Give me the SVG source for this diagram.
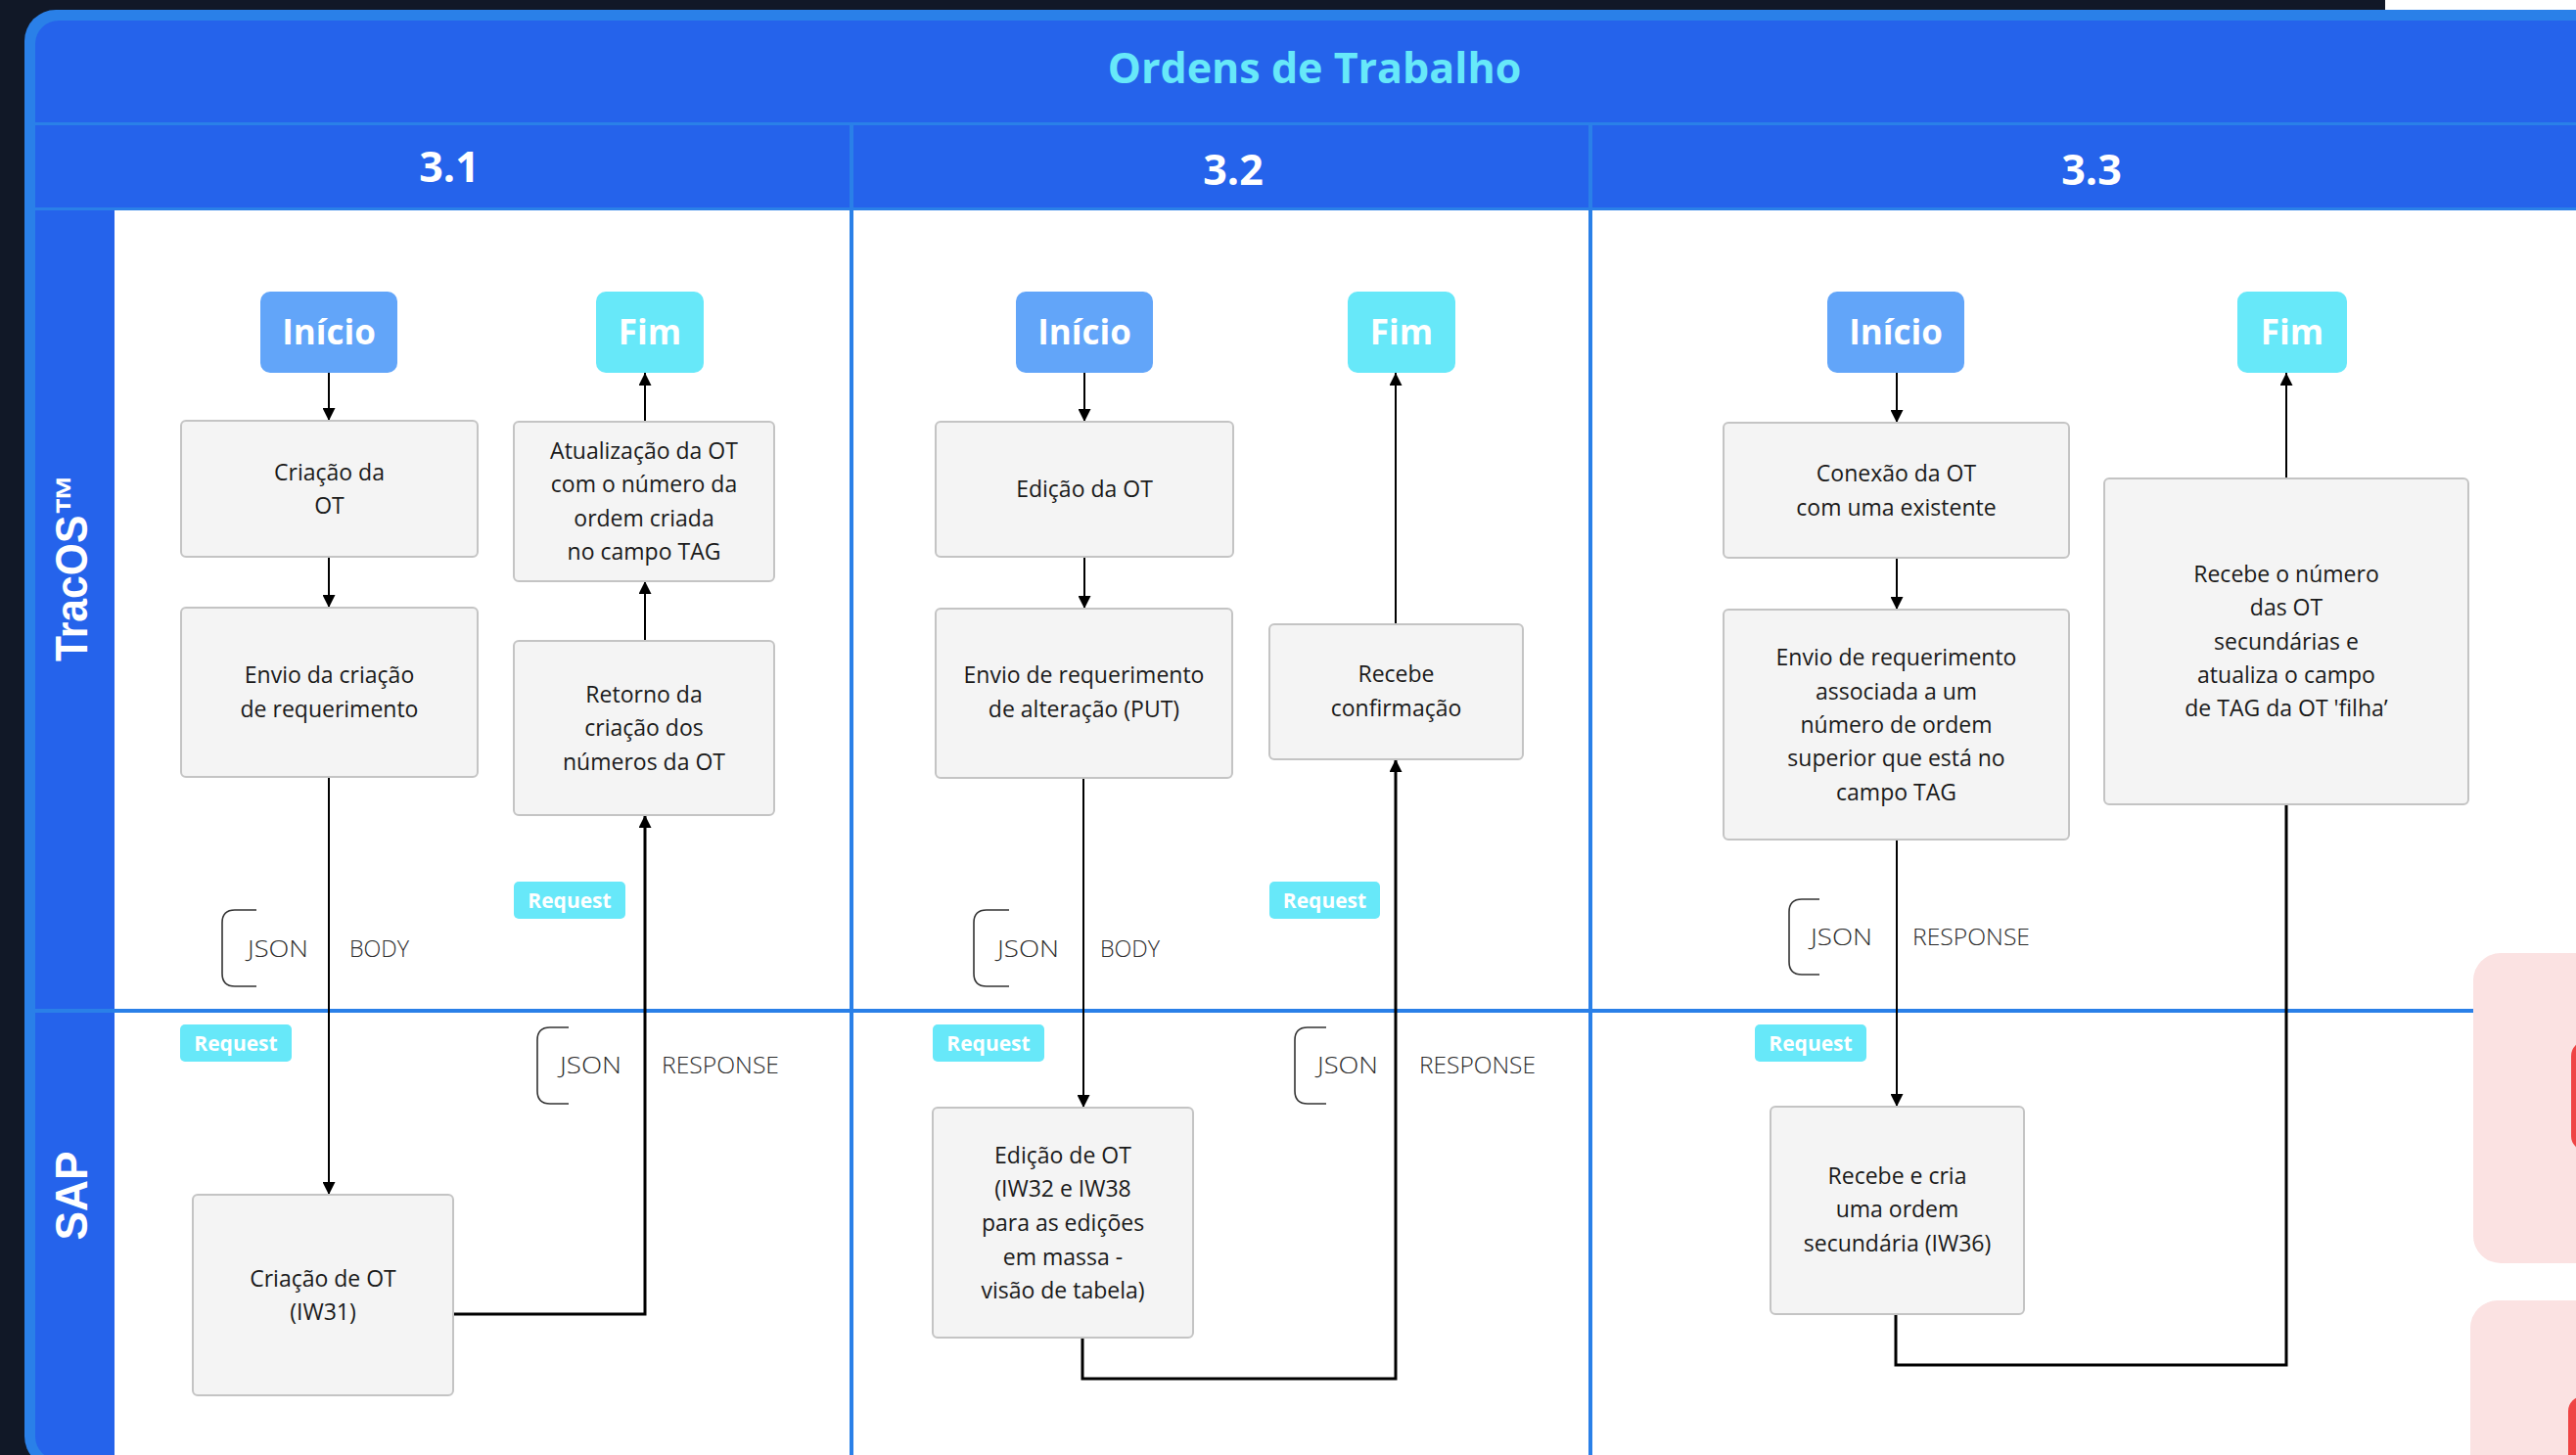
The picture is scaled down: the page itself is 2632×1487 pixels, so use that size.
<svg xmlns="http://www.w3.org/2000/svg" width="2632" height="1487" viewBox="0 0 2632 1487">
<defs>
<style>
.nd rect{fill:#f4f4f4;stroke:#c4c4c4;stroke-width:2}
.nt{font-family:"Open Sans","Liberation Sans",sans-serif;font-size:23px;fill:#1a1a1a;text-anchor:middle}
.st rect{fill:#62a5f9}
.en rect{fill:#67e8f9}
.se{font-family:"Open Sans","Liberation Sans",sans-serif;font-size:35px;font-weight:700;fill:#fff;text-anchor:middle}
.bd rect{fill:#67e8f9}
.bt{font-family:"Open Sans","Liberation Sans",sans-serif;font-size:21px;font-weight:700;fill:#fff;text-anchor:middle}
.lb{font-family:"Open Sans","Liberation Sans",sans-serif;font-size:23px;font-weight:300;fill:#2b2b2b}
.bk{fill:none;stroke:#333;stroke-width:1.6}
.c{fill:none;stroke:#000;stroke-width:2}
.c2{fill:none;stroke:#000;stroke-width:3}
.hd{font-family:"Open Sans","Liberation Sans",sans-serif;font-weight:700;fill:#fff;text-anchor:middle}
</style>
<marker id="a" viewBox="0 0 13 13" refX="13" refY="6.5" markerWidth="13" markerHeight="13" markerUnits="userSpaceOnUse" orient="auto"><path d="M0,0 L13,6.5 L0,13 z" fill="#000"/></marker>
</defs>

<g id="background">
<rect x="0" y="0" width="2632" height="1487" fill="#ffffff"/>
<rect x="0" y="0" width="2437" height="1487" fill="#111827"/>
</g>

<g id="frame">
<rect x="25" y="10" width="2720" height="1490" rx="32" fill="#2a80e8"/>
<rect x="36" y="21" width="2720" height="1471" rx="24" fill="#2563eb"/>
<rect x="117" y="215" width="2600" height="1280" fill="#ffffff"/>
<rect x="36" y="125" width="2700" height="3" fill="#2a80e8"/>
<rect x="36" y="212" width="2700" height="3" fill="#2a80e8"/>
<rect x="868" y="128" width="4" height="1370" fill="#2a80e8"/>
<rect x="1623" y="128" width="4" height="1370" fill="#2a80e8"/>
<rect x="36" y="1031" width="2491" height="4" fill="#2a80e8"/>
<text x="1343" y="85" class="hd" style="font-size:43px;fill:#67e8f9">Ordens de Trabalho</text>
<text x="459" y="186" class="hd" style="font-size:43px">3.1</text>
<text x="1260" y="189" class="hd" style="font-size:43px">3.2</text>
<text x="2137" y="189" class="hd" style="font-size:43px">3.3</text>
<text transform="translate(89,580) rotate(-90)" class="hd" style="font-family:'Liberation Sans',Arial,sans-serif;font-size:46px" textLength="192" lengthAdjust="spacingAndGlyphs">TracOS™</text>
<text transform="translate(89,1222) rotate(-90)" class="hd" style="font-family:'Liberation Sans',Arial,sans-serif;font-size:46px" textLength="91" lengthAdjust="spacingAndGlyphs">SAP</text>
</g>

<g id="side-panels">
<rect x="2527" y="974" width="200" height="317" rx="28" fill="#fbe2e2"/>
<rect x="2627" y="1064" width="60" height="112" rx="15" fill="#ef4444"/>
<rect x="2524" y="1329" width="200" height="300" rx="28" fill="#fbe2e2"/>
<rect x="2624" y="1427" width="60" height="100" rx="15" fill="#ef4444"/>
</g>

<g id="connectors">
<path class="c" d="M336,381 V430" marker-end="url(#a)"/>
<path class="c" d="M336,569 V621" marker-end="url(#a)"/>
<path class="c" d="M336,794 V1221" marker-end="url(#a)"/>
<path class="c2" d="M463,1343 H659 V833" marker-end="url(#a)"/>
<path class="c" d="M659,655 V594" marker-end="url(#a)"/>
<path class="c" d="M659,431 V381" marker-end="url(#a)"/>
<path class="c" d="M1108,381 V431" marker-end="url(#a)"/>
<path class="c" d="M1108,569 V622" marker-end="url(#a)"/>
<path class="c" d="M1107,795 V1132" marker-end="url(#a)"/>
<path class="c2" d="M1106,1367 V1409 H1426 V776" marker-end="url(#a)"/>
<path class="c" d="M1426,638 V381" marker-end="url(#a)"/>
<path class="c" d="M1938,381 V432" marker-end="url(#a)"/>
<path class="c" d="M1938,570 V623" marker-end="url(#a)"/>
<path class="c" d="M1938,858 V1131" marker-end="url(#a)"/>
<path class="c2" d="M1937,1343 V1395 H2336 V822"/>
<path class="c" d="M2336,489 V381" marker-end="url(#a)"/>
</g>

<g id="annotations">
<path class="bk" d="M262,930 H240 Q227,930 227,943 V995 Q227,1008 240,1008 H262"/>
<text x="253" y="978" class="lb" textLength="62" lengthAdjust="spacingAndGlyphs">JSON</text>
<text x="357" y="978" class="lb" textLength="61" lengthAdjust="spacingAndGlyphs">BODY</text>
<path class="bk" d="M581,1050 H562 Q549,1050 549,1063 V1115 Q549,1128 562,1128 H581"/>
<text x="572" y="1097" class="lb" textLength="63" lengthAdjust="spacingAndGlyphs">JSON</text>
<text x="676" y="1097" class="lb" textLength="120" lengthAdjust="spacingAndGlyphs">RESPONSE</text>
<path class="bk" d="M1031,930 H1008 Q995,930 995,943 V995 Q995,1008 1008,1008 H1031"/>
<text x="1019" y="978" class="lb" textLength="63" lengthAdjust="spacingAndGlyphs">JSON</text>
<text x="1124" y="978" class="lb" textLength="61" lengthAdjust="spacingAndGlyphs">BODY</text>
<path class="bk" d="M1355,1050 H1336 Q1323,1050 1323,1063 V1115 Q1323,1128 1336,1128 H1355"/>
<text x="1346" y="1097" class="lb" textLength="62" lengthAdjust="spacingAndGlyphs">JSON</text>
<text x="1450" y="1097" class="lb" textLength="119" lengthAdjust="spacingAndGlyphs">RESPONSE</text>
<path class="bk" d="M1859,919 H1841 Q1828,919 1828,932 V983 Q1828,996 1841,996 H1859"/>
<text x="1850" y="966" class="lb" textLength="63" lengthAdjust="spacingAndGlyphs">JSON</text>
<text x="1954" y="966" class="lb" textLength="120" lengthAdjust="spacingAndGlyphs">RESPONSE</text>
<g class="bd"><rect x="525" y="901" width="114" height="38" rx="5"/><text x="582" y="928" class="bt">Request</text></g>
<g class="bd"><rect x="184" y="1047" width="114" height="38" rx="5"/><text x="241" y="1074" class="bt">Request</text></g>
<g class="bd"><rect x="1297" y="901" width="113" height="38" rx="5"/><text x="1353.5" y="928" class="bt">Request</text></g>
<g class="bd"><rect x="953" y="1047" width="114" height="38" rx="5"/><text x="1010" y="1074" class="bt">Request</text></g>
<g class="bd"><rect x="1793" y="1047" width="114" height="38" rx="5"/><text x="1850" y="1074" class="bt">Request</text></g>
</g>

<g id="inicio1" class="st"><rect x="266" y="298" width="140" height="83" rx="10"/><text x="336" y="352" class="se">Início</text></g>
<g id="fim1" class="en"><rect x="609" y="298" width="110" height="83" rx="10"/><text x="664" y="352" class="se">Fim</text></g>
<g id="criacao-ot" class="nd"><rect x="185" y="430" width="303" height="139" rx="5"/><text class="nt"><tspan x="336.5" y="491">Criação da</tspan><tspan x="336.5" y="525">OT</tspan></text></g>
<g id="envio-criacao" class="nd"><rect x="185" y="621" width="303" height="173" rx="5"/><text class="nt"><tspan x="336.5" y="698">Envio da criação</tspan><tspan x="336.5" y="733">de requerimento</tspan></text></g>
<g id="atualizacao-ot" class="nd"><rect x="525" y="431" width="266" height="163" rx="5"/><text class="nt"><tspan x="658" y="469">Atualização da OT</tspan><tspan x="658" y="503">com o número da</tspan><tspan x="658" y="538">ordem criada</tspan><tspan x="658" y="572">no campo TAG</tspan></text></g>
<g id="retorno" class="nd"><rect x="525" y="655" width="266" height="178" rx="5"/><text class="nt"><tspan x="658" y="718">Retorno da</tspan><tspan x="658" y="752">criação dos</tspan><tspan x="658" y="787">números da OT</tspan></text></g>
<g id="criacao-sap" class="nd"><rect x="197" y="1221" width="266" height="205" rx="5"/><text class="nt"><tspan x="330" y="1315">Criação de OT</tspan><tspan x="330" y="1349">(IW31)</tspan></text></g>

<g id="inicio2" class="st"><rect x="1038" y="298" width="140" height="83" rx="10"/><text x="1108" y="352" class="se">Início</text></g>
<g id="fim2" class="en"><rect x="1377" y="298" width="110" height="83" rx="10"/><text x="1432" y="352" class="se">Fim</text></g>
<g id="edicao-ot" class="nd"><rect x="956" y="431" width="304" height="138" rx="5"/><text class="nt"><tspan x="1108" y="508">Edição da OT</tspan></text></g>
<g id="envio-alteracao" class="nd"><rect x="956" y="622" width="303" height="173" rx="5"/><text class="nt"><tspan x="1107.5" y="698">Envio de requerimento</tspan><tspan x="1107.5" y="733">de alteração (PUT)</tspan></text></g>
<g id="recebe-confirmacao" class="nd"><rect x="1297" y="638" width="259" height="138" rx="5"/><text class="nt"><tspan x="1426.5" y="697">Recebe</tspan><tspan x="1426.5" y="732">confirmação</tspan></text></g>
<g id="edicao-sap" class="nd"><rect x="953" y="1132" width="266" height="235" rx="5"/><text class="nt"><tspan x="1086" y="1189">Edição de OT</tspan><tspan x="1086" y="1223">(IW32 e IW38</tspan><tspan x="1086" y="1258">para as edições</tspan><tspan x="1086" y="1293">em massa -</tspan><tspan x="1086" y="1327">visão de tabela)</tspan></text></g>

<g id="inicio3" class="st"><rect x="1867" y="298" width="140" height="83" rx="10"/><text x="1937" y="352" class="se">Início</text></g>
<g id="fim3" class="en"><rect x="2286" y="298" width="112" height="83" rx="10"/><text x="2342" y="352" class="se">Fim</text></g>
<g id="conexao-ot" class="nd"><rect x="1761" y="432" width="353" height="138" rx="5"/><text class="nt"><tspan x="1937.5" y="492">Conexão da OT</tspan><tspan x="1937.5" y="527">com uma existente</tspan></text></g>
<g id="envio-associada" class="nd"><rect x="1761" y="623" width="353" height="235" rx="5"/><text class="nt"><tspan x="1937.5" y="680">Envio de requerimento</tspan><tspan x="1937.5" y="715">associada a um</tspan><tspan x="1937.5" y="749">número de ordem</tspan><tspan x="1937.5" y="783">superior que está no</tspan><tspan x="1937.5" y="818">campo TAG</tspan></text></g>
<g id="recebe-numero" class="nd"><rect x="2150" y="489" width="372" height="333" rx="5"/><text class="nt"><tspan x="2336" y="595">Recebe o número</tspan><tspan x="2336" y="629">das OT</tspan><tspan x="2336" y="664">secundárias e</tspan><tspan x="2336" y="698">atualiza o campo</tspan><tspan x="2336" y="732">de TAG da OT 'filha’</tspan></text></g>
<g id="recebe-cria" class="nd"><rect x="1809" y="1131" width="259" height="212" rx="5"/><text class="nt"><tspan x="1938.5" y="1210">Recebe e cria</tspan><tspan x="1938.5" y="1244">uma ordem</tspan><tspan x="1938.5" y="1279">secundária (IW36)</tspan></text></g>
</svg>
